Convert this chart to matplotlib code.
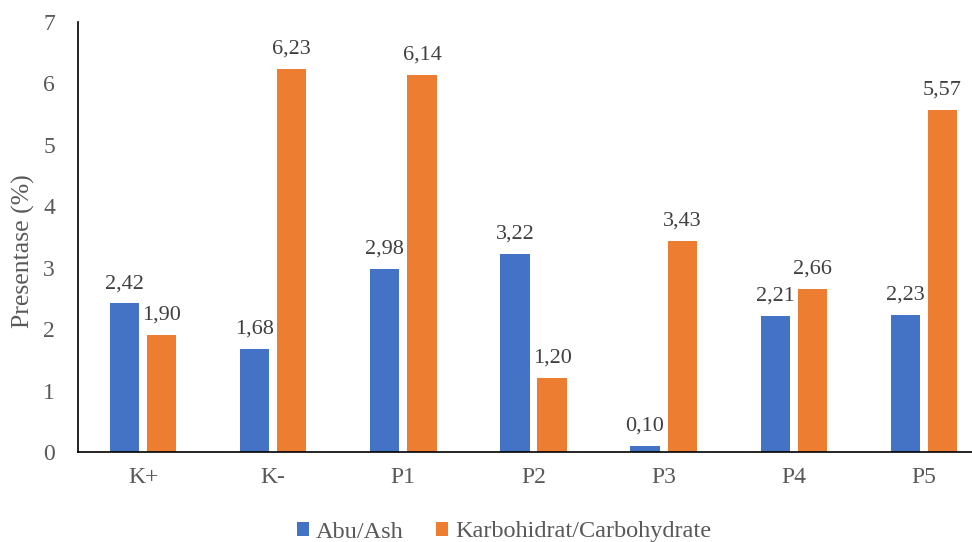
import numpy as np
import matplotlib
matplotlib.use('Agg')
import matplotlib.pyplot as plt

categories = ["K+", "K-", "P1", "P2", "P3", "P4", "P5"]
ash = [2.42, 1.68, 2.98, 3.22, 0.10, 2.21, 2.23]
carb = [1.90, 6.23, 6.14, 1.20, 3.43, 2.66, 5.57]
series_names = ["Abu/Ash", "Karbohidrat/Carbohydrate"]

plt.rcParams['font.family'] = ['Liberation Serif', 'DejaVu Serif']
text_color = "#595959"

fig = plt.figure(figsize=(9.72, 5.42), dpi=100)
ax = fig.add_axes([0.0802, 0.166, 0.9373, 0.7934])

x = np.arange(len(categories))
width = 0.225
off = 0.143
b1 = ax.bar(x - off, ash, width, color="#4472C4", label=series_names[0])
b2 = ax.bar(x + off, carb, width, color="#ED7D31", label=series_names[1])

# value labels above each bar, decimal comma
for bars, vals in ((b1, ash), (b2, carb)):
    for bar, v in zip(bars, vals):
        ax.annotate(f"{v:.2f}".replace(".", ","),
                    (bar.get_x() + bar.get_width() / 2, v),
                    xytext=(0, 11), textcoords="offset points",
                    ha="center", va="baseline", fontsize=16, color="#404040")

ax.set_xlim(-0.5, 6.5)
ax.set_ylim(0, 7)
ax.set_yticks(range(0, 8))
ax.set_xticks(x)
ax.set_xticklabels(categories)
ax.tick_params(axis="both", length=0, labelsize=17, colors=text_color)
ax.tick_params(axis="y", pad=16.5)
ax.tick_params(axis="x", pad=11)
ax.spines["top"].set_visible(False)
ax.spines["right"].set_visible(False)
ax.spines["left"].set_color("black")
ax.spines["bottom"].set_color("black")
ax.spines["left"].set_linewidth(1.2)
ax.spines["bottom"].set_linewidth(1.2)
ax.set_ylabel("Presentase (%)", fontsize=18.5, color=text_color)
ax.yaxis.set_label_coords(-0.047, 0.467)

fig.legend(loc="center", bbox_to_anchor=(504 / 972, 1 - 532 / 542), ncol=2,
           frameon=False, fontsize=17.5, handlelength=0.5, handleheight=0.5,
           handletextpad=0.3, columnspacing=1.3, labelcolor=text_color,
           borderaxespad=0, borderpad=0)

fig.savefig("out.png", dpi=100)
